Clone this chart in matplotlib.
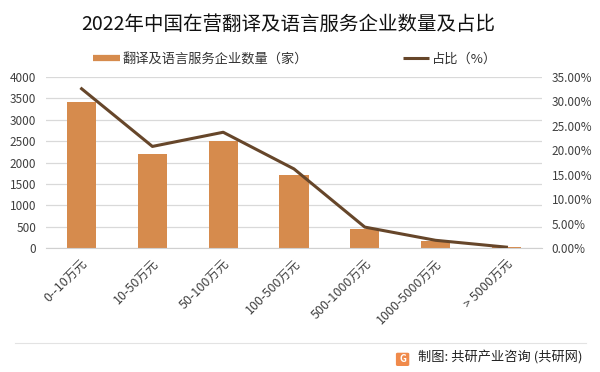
import numpy as np
import matplotlib.pyplot as plt
from matplotlib.lines import Line2D
from matplotlib.patches import FancyBboxPatch

plt.rcParams['font.family'] = ['Noto Sans CJK SC', 'DejaVu Sans']

# 数据
categories = ['0--10万元', '10-50万元', '50-100万元', '100-500万元',
              '500-1000万元', '1000-5000万元', '> 5000万元']
counts = [3420, 2190, 2500, 1700, 450, 170, 15]
shares = [32.6, 20.8, 23.7, 16.2, 4.3, 1.6, 0.2]
left_ticks = [0, 500, 1000, 1500, 2000, 2500, 3000, 3500, 4000]
right_ticks = [0, 5, 10, 15, 20, 25, 30, 35]

bar_color = '#d68b4d'
line_color = '#66462a'
grid_color = '#d9d9d9'
text_color = '#404040'

fig = plt.figure(figsize=(6, 3.72), dpi=100)
ax = fig.add_axes([0.077, 0.333, 0.826, 0.46])
ax2 = ax.twinx()

x = np.arange(len(categories))
ax.bar(x, counts, width=0.41, color=bar_color, zorder=2)
ax2.plot(x, shares, color=line_color, linewidth=2.2, zorder=3)

ax.set_xlim(-0.5, len(categories) - 0.5)
ax.set_ylim(0, 4000)
ax2.set_ylim(0, 35)
ax.set_yticks(left_ticks)
ax2.set_yticks(right_ticks)
ax2.set_yticklabels([f'{v:.2f}%' for v in right_ticks])
ax.yaxis.grid(True, color=grid_color, linewidth=0.9, zorder=0)
ax.set_axisbelow(True)

for a in (ax, ax2):
    for s in a.spines.values():
        s.set_visible(False)
    a.tick_params(axis='both', length=0, labelsize=8.5, labelcolor=text_color, pad=7)
ax.spines['bottom'].set_visible(True)
ax.spines['bottom'].set_color('#d0d0d0')

ax.set_xticks(x)
ax.set_xticklabels(categories, rotation=45, ha='right', va='top',
                   rotation_mode='anchor', fontsize=9, color=text_color)
ax.tick_params(axis='x', pad=7)

fig.text(0.48, 0.935, '2022年中国在营翻译及语言服务企业数量及占比',
         ha='center', va='center', fontsize=14, color='#111111')

handles = [Line2D([0], [0], color=bar_color, linewidth=4.5, solid_capstyle='butt'),
           Line2D([0], [0], color=line_color, linewidth=2.2, solid_capstyle='butt')]
fig.legend(handles, ['翻译及语言服务企业数量（家）', '占比（%）'],
           loc='center', bbox_to_anchor=(0.492, 0.842), ncol=2, frameon=False,
           fontsize=9.5, handlelength=2.0, handletextpad=0.2, columnspacing=7.2,
           labelcolor='#333333')

# 底部分隔线和来源
fig.add_artist(Line2D([0.025, 0.977], [0.078, 0.078], color='#e3e3e3', linewidth=0.8))
fig.add_artist(FancyBboxPatch((0.663, 0.020), 0.016, 0.028,
                              boxstyle='round,pad=0.002', color='#f08a4b',
                              transform=fig.transFigure))
fig.text(0.671, 0.034, 'G', ha='center', va='center', fontsize=7,
         color='white', fontweight='bold')
fig.text(0.697, 0.040, '制图: 共研产业咨询 (共研网)', ha='left', va='center',
         fontsize=9.5, color='#222222')

fig.savefig('out.png', dpi=100)
